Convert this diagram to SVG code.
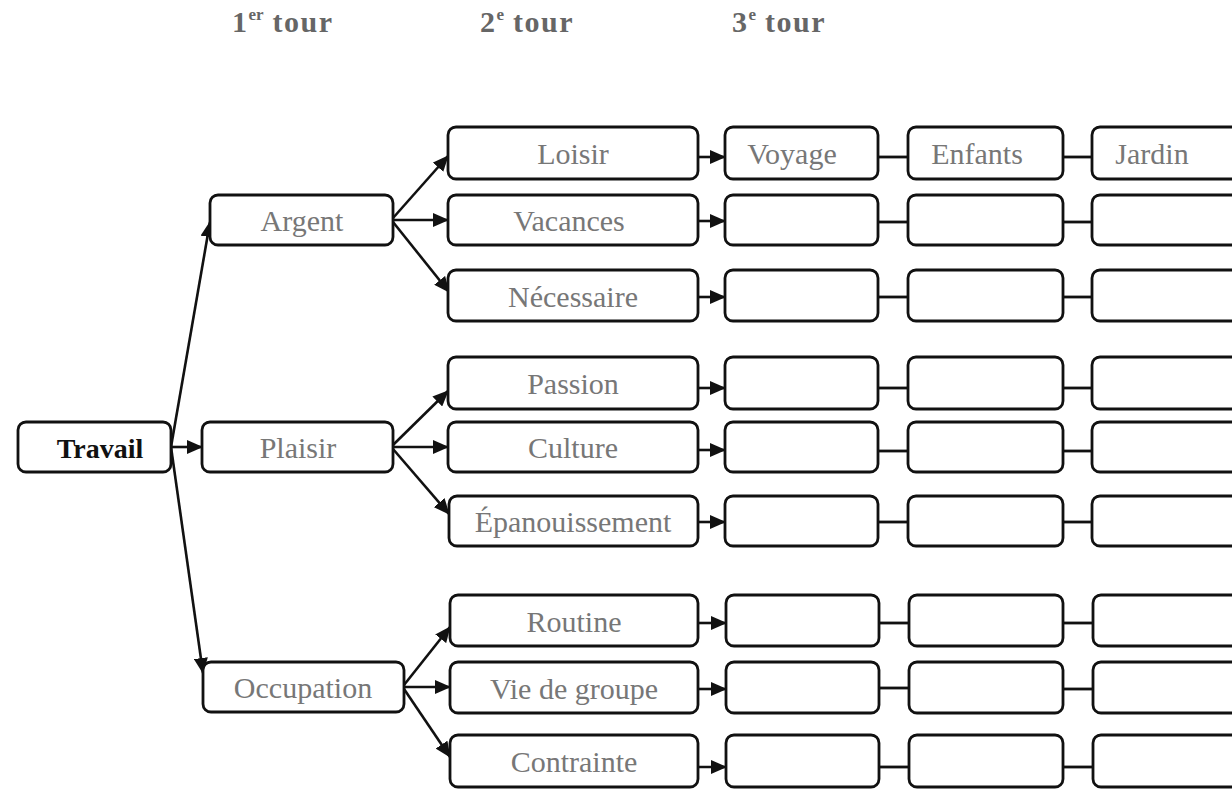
<svg xmlns="http://www.w3.org/2000/svg" width="1232" height="795" viewBox="0 0 1232 795">
<style>
.box{fill:#fff;stroke:#111;stroke-width:2.8}
.lbl{font-family:"Liberation Serif",serif;font-size:30px;fill:#777;text-anchor:middle}
.root{font-family:"Liberation Serif",serif;font-size:28px;font-weight:bold;fill:#111;text-anchor:middle}
.hdr{font-family:"Liberation Serif",serif;font-size:30px;font-weight:bold;fill:#666;letter-spacing:1.5px}
.sup{font-size:17px;letter-spacing:0}
.arr{stroke:#111;stroke-width:2.6;fill:none;marker-end:url(#ah)}
.ln{stroke:#111;stroke-width:2.8;fill:none}
</style>
<defs>
<marker id="ah" markerUnits="userSpaceOnUse" markerWidth="16" markerHeight="14" refX="15" refY="7" orient="auto">
<path d="M0,0 L16,7 L0,14 z" fill="#111"/>
</marker>
</defs>
<rect width="1232" height="795" fill="#fff"/>
<g id="headers">
<text class="hdr" x="232" y="32">1<tspan class="sup" dy="-12">er</tspan><tspan dy="12"> tour</tspan></text>
<text class="hdr" x="480" y="32">2<tspan class="sup" dy="-12">e</tspan><tspan dy="12"> tour</tspan></text>
<text class="hdr" x="732" y="32">3<tspan class="sup" dy="-12">e</tspan><tspan dy="12"> tour</tspan></text>
</g>
<g id="connectors">
<line class="arr" x1="171" y1="447" x2="210" y2="222"/>
<line class="arr" x1="171" y1="447" x2="203" y2="673"/>
<line class="arr" x1="171" y1="447" x2="202" y2="447"/>
<line class="arr" x1="393" y1="218" x2="448" y2="156"/>
<line class="arr" x1="393" y1="220" x2="448" y2="220"/>
<line class="arr" x1="393" y1="222" x2="449" y2="292"/>
<line class="arr" x1="393" y1="445" x2="448" y2="391"/>
<line class="arr" x1="393" y1="447" x2="448" y2="447"/>
<line class="arr" x1="393" y1="449" x2="449" y2="514"/>
<line class="arr" x1="404" y1="685" x2="450" y2="627"/>
<line class="arr" x1="404" y1="687" x2="450" y2="687"/>
<line class="arr" x1="404" y1="689" x2="450" y2="757"/>
<line class="arr" x1="698" y1="157" x2="725" y2="157"/>
<line class="arr" x1="698" y1="221" x2="725" y2="221"/>
<line class="arr" x1="698" y1="297" x2="725" y2="297"/>
<line class="arr" x1="698" y1="388" x2="725" y2="388"/>
<line class="arr" x1="698" y1="450" x2="725" y2="450"/>
<line class="arr" x1="698" y1="522" x2="725" y2="522"/>
<line class="arr" x1="698" y1="623" x2="726" y2="623"/>
<line class="arr" x1="698" y1="689" x2="726" y2="689"/>
<line class="arr" x1="688" y1="767" x2="726" y2="767"/>
<line class="ln" x1="878" y1="157" x2="908" y2="157"/>
<line class="ln" x1="878" y1="222" x2="908" y2="222"/>
<line class="ln" x1="878" y1="297" x2="908" y2="297"/>
<line class="ln" x1="878" y1="388" x2="908" y2="388"/>
<line class="ln" x1="878" y1="451" x2="908" y2="451"/>
<line class="ln" x1="878" y1="522" x2="908" y2="522"/>
<line class="ln" x1="879" y1="623" x2="909" y2="623"/>
<line class="ln" x1="879" y1="688" x2="909" y2="688"/>
<line class="ln" x1="879" y1="767" x2="909" y2="767"/>
<line class="ln" x1="1063" y1="157" x2="1092" y2="157"/>
<line class="ln" x1="1063" y1="222" x2="1092" y2="222"/>
<line class="ln" x1="1063" y1="297" x2="1092" y2="297"/>
<line class="ln" x1="1063" y1="388" x2="1092" y2="388"/>
<line class="ln" x1="1063" y1="451" x2="1092" y2="451"/>
<line class="ln" x1="1063" y1="522" x2="1092" y2="522"/>
<line class="ln" x1="1063" y1="623" x2="1093" y2="623"/>
<line class="ln" x1="1063" y1="689" x2="1093" y2="689"/>
<line class="ln" x1="1063" y1="767" x2="1093" y2="767"/>
</g>
<g id="travail"><rect class="box" x="18" y="422" width="153" height="50" rx="8"/><text class="root" x="100" y="458">Travail</text></g>
<g id="argent"><rect class="box" x="210" y="195" width="183" height="50" rx="8"/><text class="lbl" x="302" y="231">Argent</text></g>
<g id="plaisir"><rect class="box" x="202" y="422" width="191" height="50" rx="8"/><text class="lbl" x="298" y="458">Plaisir</text></g>
<g id="occupation"><rect class="box" x="203" y="662" width="201" height="50" rx="8"/><text class="lbl" x="303" y="698">Occupation</text></g>
<g id="loisir"><rect class="box" x="448" y="127" width="250" height="52" rx="8"/><text class="lbl" x="573" y="164">Loisir</text></g>
<g id="vacances"><rect class="box" x="448" y="195" width="250" height="50" rx="8"/><text class="lbl" x="569" y="231">Vacances</text></g>
<g id="necessaire"><rect class="box" x="448" y="270" width="250" height="51" rx="8"/><text class="lbl" x="573" y="307">Nécessaire</text></g>
<g id="passion"><rect class="box" x="448" y="357" width="250" height="52" rx="8"/><text class="lbl" x="573" y="394">Passion</text></g>
<g id="culture"><rect class="box" x="448" y="422" width="250" height="50" rx="8"/><text class="lbl" x="573" y="458">Culture</text></g>
<g id="epanouissement"><rect class="box" x="449" y="496" width="249" height="50" rx="8"/><text class="lbl" x="573" y="532">Épanouissement</text></g>
<g id="routine"><rect class="box" x="450" y="595" width="248" height="51" rx="8"/><text class="lbl" x="574" y="632">Routine</text></g>
<g id="viedegroupe"><rect class="box" x="450" y="662" width="248" height="51" rx="8"/><text class="lbl" x="574" y="699">Vie de groupe</text></g>
<g id="contrainte"><rect class="box" x="450" y="735" width="248" height="52" rx="8"/><text class="lbl" x="574" y="772">Contrainte</text></g>
<g id="voyage"><rect class="box" x="725" y="127" width="153" height="52" rx="8"/><text class="lbl" x="792" y="164">Voyage</text></g>
<g id="c3r2"><rect class="box" x="725" y="195" width="153" height="50" rx="8"/></g>
<g id="c3r3"><rect class="box" x="725" y="270" width="153" height="51" rx="8"/></g>
<g id="c3r4"><rect class="box" x="725" y="357" width="153" height="52" rx="8"/></g>
<g id="c3r5"><rect class="box" x="725" y="422" width="153" height="50" rx="8"/></g>
<g id="c3r6"><rect class="box" x="725" y="496" width="153" height="50" rx="8"/></g>
<g id="c3r7"><rect class="box" x="726" y="595" width="153" height="51" rx="8"/></g>
<g id="c3r8"><rect class="box" x="726" y="662" width="153" height="51" rx="8"/></g>
<g id="c3r9"><rect class="box" x="726" y="735" width="153" height="52" rx="8"/></g>
<g id="enfants"><rect class="box" x="908" y="127" width="155" height="52" rx="8"/><text class="lbl" x="977" y="164">Enfants</text></g>
<g id="c4r2"><rect class="box" x="908" y="195" width="155" height="50" rx="8"/></g>
<g id="c4r3"><rect class="box" x="908" y="270" width="155" height="51" rx="8"/></g>
<g id="c4r4"><rect class="box" x="908" y="357" width="155" height="52" rx="8"/></g>
<g id="c4r5"><rect class="box" x="908" y="422" width="155" height="50" rx="8"/></g>
<g id="c4r6"><rect class="box" x="908" y="496" width="155" height="50" rx="8"/></g>
<g id="c4r7"><rect class="box" x="909" y="595" width="154" height="51" rx="8"/></g>
<g id="c4r8"><rect class="box" x="909" y="662" width="154" height="51" rx="8"/></g>
<g id="c4r9"><rect class="box" x="909" y="735" width="154" height="52" rx="8"/></g>
<g id="jardin"><rect class="box" x="1092" y="127" width="170" height="52" rx="8"/><text class="lbl" x="1152" y="164">Jardin</text></g>
<g id="c5r2"><rect class="box" x="1092" y="195" width="170" height="50" rx="8"/></g>
<g id="c5r3"><rect class="box" x="1092" y="270" width="170" height="51" rx="8"/></g>
<g id="c5r4"><rect class="box" x="1092" y="357" width="170" height="52" rx="8"/></g>
<g id="c5r5"><rect class="box" x="1092" y="422" width="170" height="50" rx="8"/></g>
<g id="c5r6"><rect class="box" x="1092" y="496" width="170" height="50" rx="8"/></g>
<g id="c5r7"><rect class="box" x="1093" y="595" width="170" height="51" rx="8"/></g>
<g id="c5r8"><rect class="box" x="1093" y="662" width="170" height="51" rx="8"/></g>
<g id="c5r9"><rect class="box" x="1093" y="735" width="170" height="52" rx="8"/></g>
</svg>
